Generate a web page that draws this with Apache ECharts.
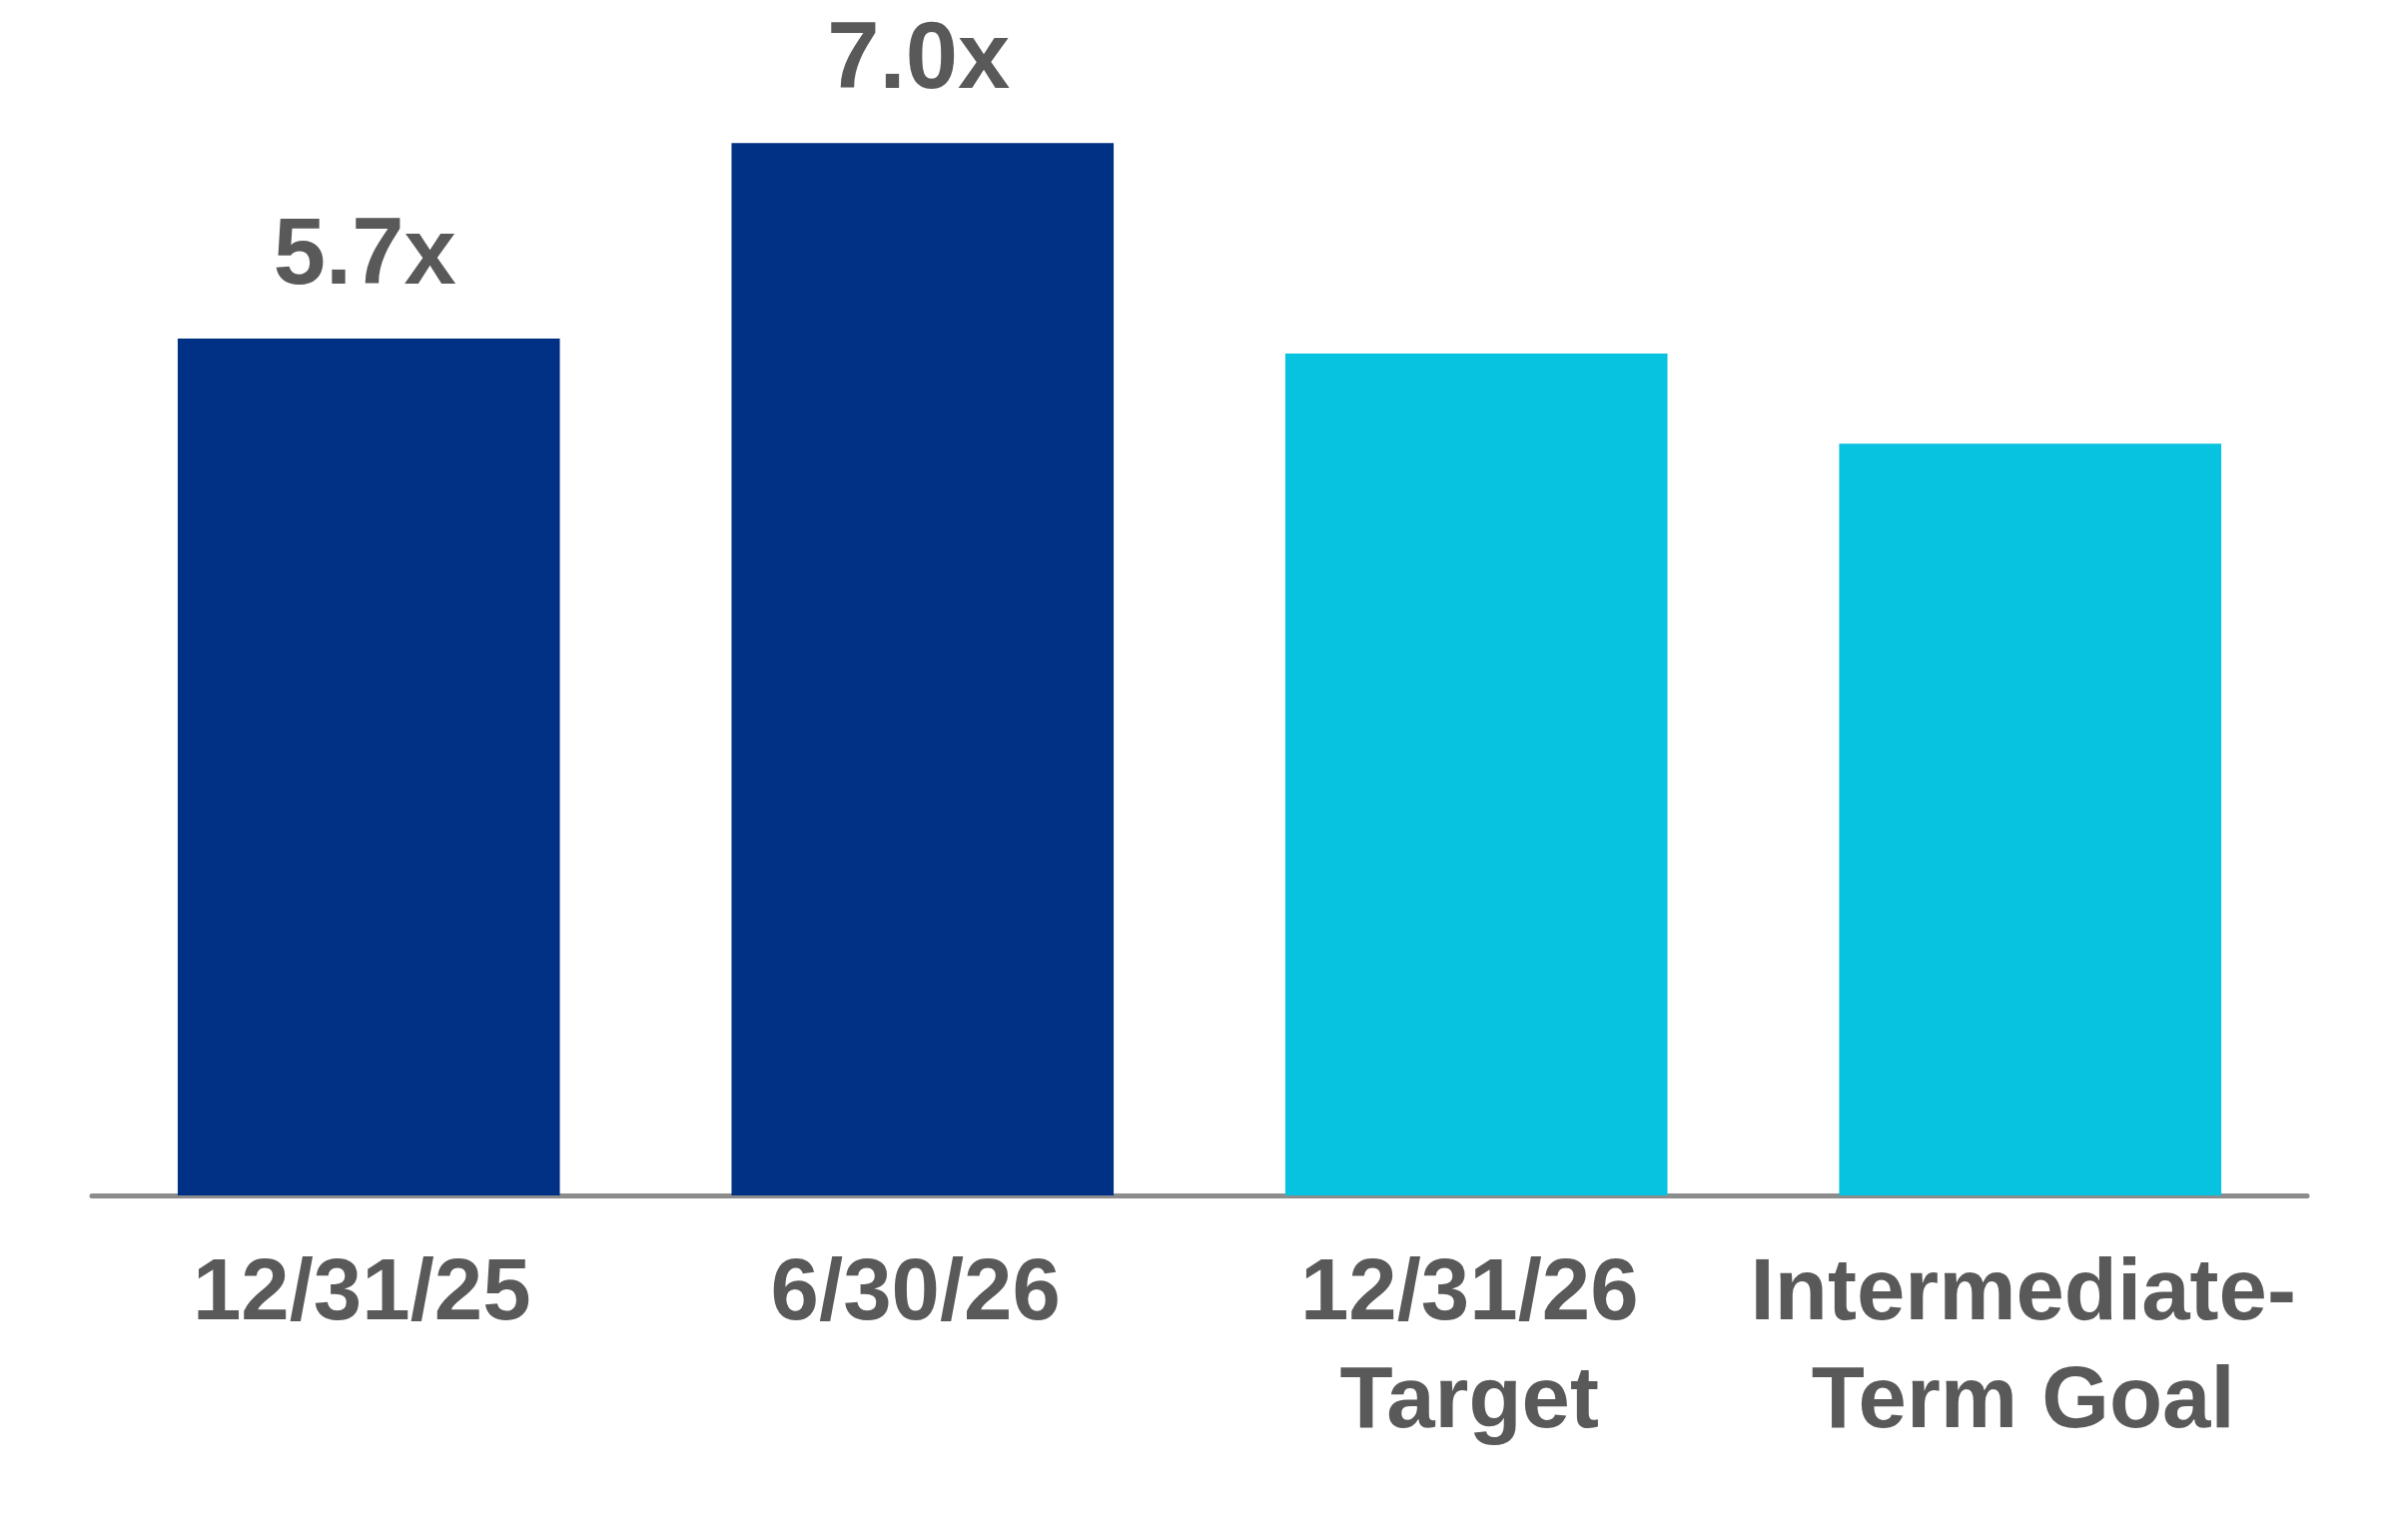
<!DOCTYPE html>
<html>
<head>
<meta charset="utf-8">
<script src="https://cdn.jsdelivr.net/npm/echarts@6/dist/echarts.min.js"></script>
<style>
html,body{margin:0;padding:0;background:#fff;}
#c{width:2400px;height:1542px;}
</style>
</head>
<body>
<div id="c"></div>
<script>
const categories = ['12/31/25', '6/30/26', '12/31/26\nTarget', 'Intermediate-\nTerm Goal'];
const values = [5.7, 7.0, 5.6, 5.0];
const valueLabels = ['5.7x', '7.0x', '', ''];
const barColors = ['#003184', '#003184', '#07C3DF', '#07C3DF'];

const chart = echarts.init(document.getElementById('c'), null, {renderer: 'canvas'});
chart.setOption({
  animation: false,
  backgroundColor: '#ffffff',
  grid: {left: 92, right: 90, top: 68, bottom: 345, containLabel: false},
  xAxis: {
    type: 'category',
    data: categories,
    axisLine: {show: true, lineStyle: {color: '#8c8c8c', width: 5}},
    axisTick: {show: false},
    axisLabel: {
      color: '#595959',
      fontFamily: '"Liberation Sans", Arial, sans-serif',
      fontWeight: 'bold',
      fontSize: 87,
      lineHeight: 108,
      margin: 46,
      padding: [0, 14, 0, 0],
      interval: 0
    }
  },
  yAxis: {
    type: 'value',
    min: 0,
    max: 7.5,
    show: false,
    splitLine: {show: false}
  },
  series: [{
    type: 'bar',
    barWidth: '69%',
    z: 1,
    data: values.map((v, i) => ({
      value: v,
      itemStyle: {color: barColors[i]},
      label: {
        show: valueLabels[i] !== '',
        formatter: valueLabels[i]
      }
    })),
    label: {
      position: 'top',
      distance: 34,
      color: '#595959',
      fontFamily: '"Liberation Sans", Arial, sans-serif',
      fontWeight: 'bold',
      fontSize: 94,
      padding: [0, 8, 0, 0]
    }
  }]
});
</script>
</body>
</html>
